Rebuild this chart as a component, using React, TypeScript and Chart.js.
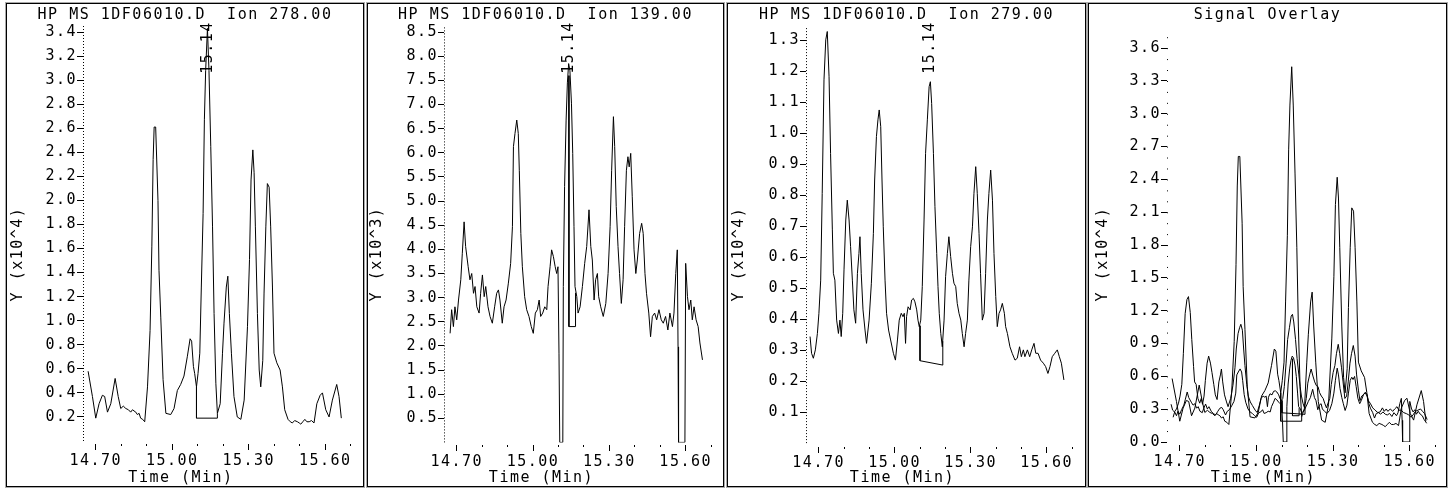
import React, { useEffect, useRef } from 'react';
import { Chart, registerables } from 'chart.js';
Chart.register(...registerables);

const FONT = "'DejaVu Sans Mono', 'Liberation Mono', monospace";

// ---- Ion 278.00 (x10^4) ----
const ion278Time = [14.670,14.687,14.700,14.713,14.726,14.735,14.746,14.759,14.776,14.788,14.798,14.808,14.818,14.828,14.837,14.844,14.850,14.857,14.863,14.870,14.876,14.884,14.892,14.903,14.913,14.920,14.925,14.929,14.935,14.944,14.948,14.955,14.964,14.975,14.994,15.007,15.020,15.033,15.046,15.059,15.070,15.076,15.083,15.088,15.095,15.101,15.108,15.114,15.121,15.126,15.131,15.138,15.144,15.151,15.158,15.164,15.171,15.177,15.188,15.197,15.203,15.212,15.218,15.224,15.232,15.242,15.255,15.269,15.282,15.295,15.303,15.309,15.316,15.321,15.326,15.334,15.341,15.347,15.355,15.360,15.367,15.373,15.380,15.386,15.393,15.399,15.410,15.423,15.432,15.441,15.454,15.463,15.471,15.480,15.491,15.498,15.504,15.512,15.520,15.528,15.537,15.546,15.556,15.567,15.580,15.589,15.602,15.615,15.628,15.645,15.654,15.663];
const ion278Value = [0.58,0.37,0.19,0.31,0.38,0.37,0.24,0.31,0.52,0.37,0.27,0.29,0.27,0.26,0.24,0.26,0.25,0.24,0.22,0.23,0.19,0.18,0.16,0.45,0.92,1.62,2.34,2.61,2.61,2.00,1.42,1.03,0.51,0.23,0.22,0.27,0.42,0.47,0.54,0.70,0.85,0.83,0.62,0.56,0.45,0.56,0.73,1.28,1.89,2.67,3.08,3.43,3.08,2.45,1.78,1.06,0.48,0.23,0.31,0.73,0.98,1.28,1.37,1.06,0.73,0.37,0.20,0.18,0.34,0.95,1.51,2.17,2.42,2.23,1.78,1.06,0.59,0.45,0.67,1.23,1.78,2.14,2.11,1.78,1.28,0.73,0.65,0.59,0.45,0.26,0.18,0.16,0.15,0.17,0.16,0.15,0.14,0.16,0.18,0.16,0.16,0.17,0.15,0.31,0.38,0.40,0.26,0.20,0.34,0.47,0.37,0.19];
const ion278BoxTime = [15.095, 15.095, 15.177, 15.177];
const ion278BoxValue = [0.45, 0.19, 0.19, 0.23];

// ---- Ion 139.00 (x10^3) ----
const ion139Time = [14.674,14.680,14.687,14.693,14.700,14.707,14.716,14.722,14.729,14.735,14.745,14.752,14.759,14.766,14.772,14.779,14.788,14.794,14.801,14.808,14.814,14.823,14.831,14.840,14.849,14.857,14.864,14.870,14.879,14.886,14.894,14.903,14.912,14.919,14.923,14.929,14.936,14.942,14.946,14.952,14.958,14.967,14.975,14.984,14.993,15.001,15.009,15.017,15.024,15.030,15.038,15.046,15.054,15.059,15.067,15.073,15.080,15.087,15.093,15.098,15.102,15.105,15.117,15.119,15.124,15.130,15.135,15.140,15.145,15.151,15.156,15.161,15.165,15.172,15.177,15.185,15.194,15.203,15.211,15.220,15.227,15.233,15.240,15.246,15.253,15.258,15.266,15.276,15.286,15.295,15.303,15.309,15.316,15.321,15.327,15.334,15.340,15.347,15.354,15.360,15.367,15.373,15.378,15.384,15.390,15.397,15.404,15.410,15.419,15.427,15.433,15.440,15.446,15.455,15.462,15.469,15.478,15.486,15.495,15.504,15.512,15.521,15.530,15.538,15.548,15.554,15.561,15.567,15.570,15.572,15.597,15.600,15.607,15.613,15.620,15.626,15.633,15.641,15.649,15.656,15.666];
const ion139Value = [2.26,2.75,2.40,2.81,2.54,2.95,3.37,3.92,4.57,4.06,3.64,3.37,3.50,3.09,3.23,2.81,2.68,3.09,3.47,3.02,3.23,2.81,2.61,2.47,2.81,3.09,3.16,2.95,2.47,2.81,2.95,3.30,3.71,4.47,6.13,6.40,6.68,6.40,5.64,4.33,3.64,3.02,2.75,2.61,2.40,2.26,2.68,2.75,2.95,2.61,2.68,2.81,2.75,3.23,3.64,3.99,3.85,3.64,3.50,3.64,1.85,0,0,3.23,5.30,6.68,7.45,7.85,7.70,7.03,5.99,4.47,3.23,3.02,2.68,2.81,3.23,3.71,4.06,4.82,4.06,3.78,2.95,3.37,3.50,3.02,2.81,2.61,2.88,3.50,4.47,5.64,6.75,6.13,4.89,4.06,3.50,2.88,3.37,4.47,5.64,5.92,5.71,5.99,5.09,3.99,3.50,3.78,4.33,4.54,4.33,3.50,3.09,2.68,2.19,2.61,2.68,2.54,2.75,2.54,2.47,2.61,2.33,2.68,2.40,2.68,3.50,3.99,1.98,0,0,3.71,3.02,2.75,2.95,2.54,2.81,2.54,2.40,2.06,1.71];
const ion139BoxTime = [15.141, 15.141, 15.167, 15.167];
const ion139BoxValue = [7.6, 2.40, 2.40, 3.10];

// ---- Ion 279.00 (x10^4) ----
const ion279Time = [14.666,14.672,14.679,14.687,14.695,14.701,14.708,14.714,14.721,14.728,14.734,14.741,14.747,14.754,14.758,14.764,14.771,14.778,14.784,14.789,14.795,14.800,14.807,14.813,14.820,14.826,14.833,14.839,14.846,14.853,14.859,14.863,14.868,14.875,14.883,14.889,14.899,14.908,14.916,14.921,14.928,14.934,14.939,14.945,14.950,14.955,14.962,14.968,14.976,14.984,14.995,15.003,15.011,15.018,15.026,15.033,15.038,15.043,15.047,15.053,15.061,15.067,15.074,15.080,15.087,15.092,15.097,15.103,15.109,15.116,15.122,15.129,15.136,15.141,15.146,15.153,15.159,15.166,15.171,15.176,15.182,15.188,15.195,15.201,15.208,15.214,15.221,15.228,15.234,15.241,15.247,15.254,15.261,15.267,15.274,15.280,15.287,15.293,15.300,15.307,15.313,15.320,15.326,15.333,15.339,15.346,15.353,15.359,15.366,15.372,15.379,15.386,15.392,15.399,15.405,15.412,15.418,15.425,15.433,15.438,15.445,15.455,15.464,15.475,15.484,15.493,15.500,15.508,15.514,15.524,15.533,15.541,15.550,15.557,15.566,15.576,15.587,15.596,15.605,15.613,15.622,15.632,15.642,15.650,15.658,15.668];
const ion279Value = [0.345,0.291,0.275,0.302,0.355,0.420,0.527,0.807,1.173,1.302,1.329,1.183,0.936,0.689,0.549,0.527,0.398,0.355,0.398,0.345,0.420,0.560,0.721,0.785,0.721,0.635,0.527,0.431,0.388,0.549,0.613,0.667,0.549,0.431,0.366,0.323,0.398,0.517,0.678,0.850,0.990,1.044,1.076,1.022,0.850,0.699,0.527,0.420,0.366,0.334,0.291,0.269,0.334,0.398,0.420,0.409,0.420,0.323,0.409,0.441,0.431,0.463,0.468,0.457,0.431,0.398,0.377,0.398,0.506,0.721,0.936,1.044,1.151,1.167,1.097,0.936,0.764,0.613,0.506,0.420,0.355,0.312,0.398,0.538,0.613,0.667,0.603,0.549,0.517,0.506,0.452,0.420,0.398,0.355,0.312,0.355,0.398,0.527,0.635,0.699,0.807,0.893,0.807,0.678,0.549,0.398,0.420,0.549,0.721,0.807,0.882,0.785,0.613,0.474,0.377,0.420,0.431,0.452,0.420,0.377,0.355,0.312,0.291,0.269,0.275,0.312,0.280,0.302,0.280,0.302,0.280,0.302,0.323,0.291,0.291,0.269,0.259,0.248,0.226,0.248,0.280,0.291,0.302,0.280,0.259,0.205];
const ion279BoxTime = [15.100, 15.100, 15.190, 15.190];
const ion279BoxValue = [0.38, 0.267, 0.253, 0.33];

// axis tick labels
const timeTickLabels = [14.7, 15.0, 15.3, 15.6];
const peakLabel = '15.14';
const peakTime = 15.14;

type Series = { t: number[]; v: number[]; scale?: number };
type PanelCfg = {
  id: string; left: number; width: number; title: string; yTitle: string;
  chartLeft: number; chartTop: number; chartBottom: number; padRight: number;
  yMax: number; yStep: number; yFirst: number; yLast: number;
  yTitleX: number; axisDash: number[]; peak: boolean; series: Series[];
};

const PANELS: PanelCfg[] = [
  { id: 'p1', left: 6, width: 358, title: 'HP MS 1DF06010.D  Ion 278.00', yTitle: 'Y (x10^4)',
    chartLeft: 76, chartTop: 22, chartBottom: 437, padRight: 4.6,
    yMax: 3.45, yStep: 0.2, yFirst: 0.2, yLast: 3.4, yTitleX: 11, axisDash: [1, 2], peak: true,
    series: [{ t: ion278Time, v: ion278Value }, { t: ion278BoxTime, v: ion278BoxValue }] },
  { id: 'p2', left: 367, width: 357, title: 'HP MS 1DF06010.D  Ion 139.00', yTitle: 'Y (x10^3)',
    chartLeft: 76, chartTop: 23.4, chartBottom: 438.4, padRight: 4.25,
    yMax: 8.6, yStep: 0.5, yFirst: 0.5, yLast: 8.5, yTitleX: 9.5, axisDash: [1, 2], peak: true,
    series: [{ t: ion139Time, v: ion139Value }, { t: ion139BoxTime, v: ion139BoxValue }] },
  { id: 'p3', left: 727, width: 359, title: 'HP MS 1DF06010.D  Ion 279.00', yTitle: 'Y (x10^4)',
    chartLeft: 78, chartTop: 24.1, chartBottom: 439.5, padRight: 5.4,
    yMax: 1.34, yStep: 0.1, yFirst: 0.1, yLast: 1.3, yTitleX: 11, axisDash: [1, 2], peak: true,
    series: [{ t: ion279Time, v: ion279Value }, { t: ion279BoxTime, v: ion279BoxValue }] },
  { id: 'p4', left: 1088, width: 359, title: 'Signal Overlay', yTitle: 'Y (x10^4)',
    chartLeft: 78, chartTop: 33.2, chartBottom: 438, padRight: 3,
    yMax: 3.7, yStep: 0.3, yFirst: 0.0, yLast: 3.6, yTitleX: 14, axisDash: [1, 9.94], peak: false,
    series: [
      { t: ion278Time, v: ion278Value }, { t: ion278BoxTime, v: ion278BoxValue },
      { t: ion279Time, v: ion279Value }, { t: ion279BoxTime, v: ion279BoxValue },
      { t: ion139Time, v: ion139Value, scale: 0.1 }, { t: ion139BoxTime, v: ion139BoxValue, scale: 0.1 },
    ] },
];

const CANVAS_H = 482;

function isMajorTime(v: number) {
  return timeTickLabels.some((m) => Math.abs(m - v) < 1e-6);
}

function Panel({ cfg }: { cfg: PanelCfg }) {
  const ref = useRef<HTMLCanvasElement>(null);
  const w = cfg.width - 2;
  useEffect(() => {
    const canvas = ref.current!;
    const isYLabel = (v: number) => {
      const q = v / cfg.yStep;
      return Math.abs(q - Math.round(q)) < 1e-6 && v >= cfg.yFirst - 1e-9 && v <= cfg.yLast + 1e-9;
    };
    const decor = {
      id: 'decor',
      beforeDraw(chart: any) {
        chart.ctx.letterSpacing = '1.5px';
      },
      afterDraw(chart: any) {
        const ctx = chart.ctx as CanvasRenderingContext2D;
        const ca = chart.chartArea;
        ctx.save();
        // dotted y axis
        ctx.strokeStyle = '#000';
        ctx.lineWidth = 1;
        ctx.setLineDash(cfg.axisDash);
        ctx.beginPath();
        const ax = Math.round(ca.left) + 0.5;
        ctx.moveTo(ax, ca.top);
        ctx.lineTo(ax, ca.bottom);
        ctx.stroke();
        ctx.setLineDash([]);
        ctx.fillStyle = '#000';
        ctx.font = `15px ${FONT}`;
        (ctx as any).letterSpacing = '1.5px';
        ctx.textAlign = 'center';
        ctx.textBaseline = 'middle';
        ctx.fillText(cfg.title, w / 2, 11.5);
        ctx.fillText('Time (Min)', w / 2 - 4, 474);
        ctx.save();
        ctx.translate(cfg.yTitleX, 250);
        ctx.rotate(-Math.PI / 2);
        ctx.fillText(cfg.yTitle, 0, 0);
        ctx.restore();
        if (cfg.peak) {
          const px = chart.scales.x.getPixelForValue(peakTime);
          ctx.save();
          ctx.translate(px, 43.5);
          ctx.rotate(-Math.PI / 2);
          ctx.fillText(peakLabel, 0, 0);
          ctx.restore();
        }
        ctx.restore();
      },
    };
    const chart = new Chart(canvas, {
      type: 'line',
      data: {
        datasets: cfg.series.map((s) => ({
          data: s.t.map((t, i) => ({ x: t, y: s.v[i] * (s.scale ?? 1) })),
          borderColor: '#000',
          borderWidth: 1,
          pointRadius: 0,
          tension: 0,
          fill: false,
        })),
      },
      options: {
        animation: false,
        responsive: false,
        devicePixelRatio: 1,
        events: [],
        layout: { padding: { top: cfg.chartTop, right: cfg.padRight, bottom: 0, left: 0 } },
        plugins: { legend: { display: false }, tooltip: { enabled: false }, title: { display: false } },
        scales: {
          x: {
            type: 'linear',
            min: 14.65,
            max: 15.73,
            afterFit: (s: any) => { s.height = CANVAS_H - cfg.chartBottom; },
            border: { display: false },
            grid: {
              drawOnChartArea: false,
              drawTicks: true,
              tickLength: 10,
              tickWidth: 1,
              tickColor: '#000',
              tickBorderDash: (c: any) => (isMajorTime(c.tick?.value) ? [0, 3, 6, 100] : [0, 3, 2, 100]),
            },
            ticks: {
              stepSize: 0.1,
              includeBounds: false,
              autoSkip: false,
              maxRotation: 0,
              minRotation: 0,
              padding: 1,
              color: '#000',
              font: { family: FONT, size: 15 },
              callback: (v: any) => (isMajorTime(Number(v)) ? Number(v).toFixed(2) : ''),
            },
          },
          y: {
            type: 'linear',
            min: 0,
            max: cfg.yMax,
            afterFit: (s: any) => { s.width = cfg.chartLeft; },
            border: { display: false },
            grid: {
              drawOnChartArea: false,
              drawTicks: true,
              tickLength: 6,
              tickWidth: 1,
              tickColor: (c: any) => (isYLabel(c.tick?.value) ? '#000' : 'rgba(0,0,0,0)'),
            },
            ticks: {
              stepSize: cfg.yStep,
              includeBounds: false,
              autoSkip: false,
              padding: 0,
              color: '#000',
              font: { family: FONT, size: 15 },
              callback: (v: any) => (isYLabel(Number(v)) ? Number(v).toFixed(1) : ''),
            },
          },
        },
      } as any,
      plugins: [decor as any],
    });
    return () => chart.destroy();
  }, []);
  return (
    <div
      style={{
        position: 'absolute', left: cfg.left, top: 3, width: cfg.width, height: 484,
        border: '1px solid #000', boxSizing: 'border-box', boxShadow: '0 0 0 1px #aaa', background: '#fff',
      }}
    >
      <canvas ref={ref} width={w} height={CANVAS_H} style={{ display: 'block' }} />
    </div>
  );
}

export default function App() {
  return (
    <div style={{ position: 'absolute', left: 0, top: 0, width: 1455, height: 490, background: '#fff', overflow: 'hidden' }}>
      {PANELS.map((p) => (
        <Panel key={p.id} cfg={p} />
      ))}
    </div>
  );
}
